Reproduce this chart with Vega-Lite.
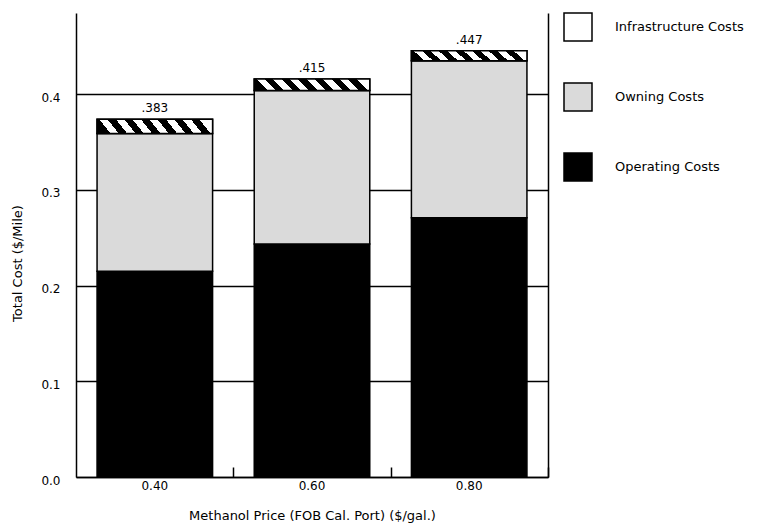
{
  "$schema": "https://vega.github.io/schema/vega-lite/v6.json",
  "width": 472,
  "height": 464,
  "autosize": {"type": "none"},
  "padding": {"left": 76, "top": 13, "right": 232, "bottom": 48},
  "background": "white",
  "config": {
    "view": {"stroke": null},
    "font": "DejaVu Sans",
    "axis": {
      "domainColor": "black",
      "domainWidth": 1.5,
      "labelColor": "black",
      "titleColor": "black",
      "labelFont": "DejaVu Sans",
      "titleFont": "DejaVu Sans",
      "titleFontWeight": "normal",
      "labelFontSize": 11,
      "titleFontSize": 12
    },
    "legend": {
      "labelFont": "DejaVu Sans",
      "labelColor": "black"
    }
  },
  "datasets": {
    "costs": [
      {"price": "0.40", "component": "Operating Costs", "value": 0.215},
      {"price": "0.40", "component": "Owning Costs", "value": 0.144},
      {"price": "0.40", "component": "Infrastructure Costs", "value": 0.015},
      {"price": "0.60", "component": "Operating Costs", "value": 0.2435},
      {"price": "0.60", "component": "Owning Costs", "value": 0.1605},
      {"price": "0.60", "component": "Infrastructure Costs", "value": 0.012},
      {"price": "0.80", "component": "Operating Costs", "value": 0.271},
      {"price": "0.80", "component": "Owning Costs", "value": 0.164},
      {"price": "0.80", "component": "Infrastructure Costs", "value": 0.0105}
    ],
    "totals": [
      {"price": "0.40", "total": 0.374, "label": ".383"},
      {"price": "0.60", "total": 0.416, "label": ".415"},
      {"price": "0.80", "total": 0.4455, "label": ".447"}
    ]
  },
  "resolve": {"axis": {"y": "independent", "x": "independent"}},
  "layer": [
    {
      "data": {"name": "costs"},
      "transform": [
        {"stack": "value", "groupby": ["price"], "sort": [{"field": "value", "order": "descending"}], "as": ["v0", "v1"]}
      ],
      "layer": [
        {
          "mark": {"type": "bar", "stroke": "black", "strokeWidth": 1.5},
          "encoding": {
            "x": {
              "field": "price",
              "type": "ordinal",
              "scale": {"paddingInner": 0.265, "paddingOuter": 0.134},
              "axis": {
                "title": "Methanol Price (FOB Cal. Port) ($/gal.)",
                "labelAngle": 0,
                "ticks": false,
                "labelPadding": 3,
                "labelFontSize": 12,
                "titleY": 32,
                "titleFontSize": 13
              }
            },
            "y": {
              "field": "v0",
              "type": "quantitative",
              "scale": {"domain": [0, 0.485], "nice": false, "zero": true},
              "axis": {
                "title": "Total Cost ($/Mile)",
                "values": [0, 0.1, 0.2, 0.3, 0.4],
                "format": ".1f",
                "ticks": false,
                "grid": true,
                "gridColor": "black",
                "gridWidth": 1.5,
                "gridOpacity": 1,
                "labelPadding": 16,
                "labelOffset": 3,
                "labelFontSize": 12,
                "titleX": -52,
                "titleY": 250,
                "titleFontSize": 13
              }
            },
            "y2": {"field": "v1"},
            "color": {
              "field": "component",
              "type": "nominal",
              "sort": ["Infrastructure Costs", "Owning Costs", "Operating Costs"],
              "scale": {
                "domain": ["Infrastructure Costs", "Owning Costs", "Operating Costs"],
                "range": ["white", "#dadada", "black"]
              },
              "legend": {
                "title": null,
                "orient": "none",
                "legendX": 487,
                "legendY": -1,
                "padding": 0,
                "symbolType": "square",
                "symbolSize": 784,
                "symbolStrokeColor": "black",
                "symbolStrokeWidth": 1.5,
                "symbolOpacity": 1,
                "rowPadding": 36,
                "labelOffset": 22,
                "labelFontSize": 13,
                "labelLimit": 300,
                "encoding": {
                  "symbols": {
                    "fill": {
                      "expr": "datum.value === 'Infrastructure Costs' ? {gradient: 'linear', x1: 0, y1: 0, x2: 1, y2: 0.3, stops: [{offset: 0, color: 'black'}, {offset: 0.2, color: 'black'}, {offset: 0.2, color: 'white'}, {offset: 0.4, color: 'white'}, {offset: 0.4, color: 'black'}, {offset: 0.6, color: 'black'}, {offset: 0.6, color: 'white'}, {offset: 0.8, color: 'white'}, {offset: 0.8, color: 'black'}, {offset: 1, color: 'black'}]} : scale('color', datum.value)"
                    },
                    "stroke": {"value": "black"},
                    "strokeWidth": {"value": 1.5}
                  }
                }
              }
            }
          }
        },
        {
          "transform": [{"filter": "datum.component === 'Infrastructure Costs'"}],
          "mark": {
            "type": "bar",
            "stroke": "black",
            "strokeWidth": 1.5,
            "color": {
              "gradient": "linear",
              "x1": 0, "y1": 0.55, "x2": 1, "y2": 0.45,
              "stops": [
                {"offset": 0, "color": "black"},
                {"offset": 0.0714, "color": "black"},
                {"offset": 0.0714, "color": "white"},
                {"offset": 0.1429, "color": "white"},
                {"offset": 0.1429, "color": "black"},
                {"offset": 0.2143, "color": "black"},
                {"offset": 0.2143, "color": "white"},
                {"offset": 0.2857, "color": "white"},
                {"offset": 0.2857, "color": "black"},
                {"offset": 0.3571, "color": "black"},
                {"offset": 0.3571, "color": "white"},
                {"offset": 0.4286, "color": "white"},
                {"offset": 0.4286, "color": "black"},
                {"offset": 0.5, "color": "black"},
                {"offset": 0.5, "color": "white"},
                {"offset": 0.5714, "color": "white"},
                {"offset": 0.5714, "color": "black"},
                {"offset": 0.6429, "color": "black"},
                {"offset": 0.6429, "color": "white"},
                {"offset": 0.7143, "color": "white"},
                {"offset": 0.7143, "color": "black"},
                {"offset": 0.7857, "color": "black"},
                {"offset": 0.7857, "color": "white"},
                {"offset": 0.8571, "color": "white"},
                {"offset": 0.8571, "color": "black"},
                {"offset": 0.9286, "color": "black"},
                {"offset": 0.9286, "color": "white"},
                {"offset": 1, "color": "white"}
              ]
            }
          },
          "encoding": {
            "x": {"field": "price", "type": "ordinal"},
            "y": {"field": "v0", "type": "quantitative"},
            "y2": {"field": "v1"}
          }
        }
      ]
    },
    {
      "data": {"name": "totals"},
      "mark": {"type": "text", "dy": -11, "fontSize": 12, "font": "DejaVu Sans", "color": "black"},
      "encoding": {
        "x": {
          "field": "price",
          "type": "ordinal",
          "axis": {
            "orient": "top",
            "offset": -464,
            "title": null,
            "labels": false,
            "domain": false,
            "ticks": true,
            "bandPosition": 1,
            "tickOffset": 20.75,
            "tickSize": 10,
            "tickColor": "black",
            "tickWidth": 1.5
          }
        },
        "y": {
          "field": "total",
          "type": "quantitative",
          "scale": {"domain": [0, 0.485], "nice": false, "zero": true},
          "axis": {
            "orient": "right",
            "title": null,
            "labels": false,
            "ticks": false,
            "grid": false,
            "domainColor": "black",
            "domainWidth": 1.5
          }
        },
        "text": {"field": "label"}
      }
    }
  ]
}
